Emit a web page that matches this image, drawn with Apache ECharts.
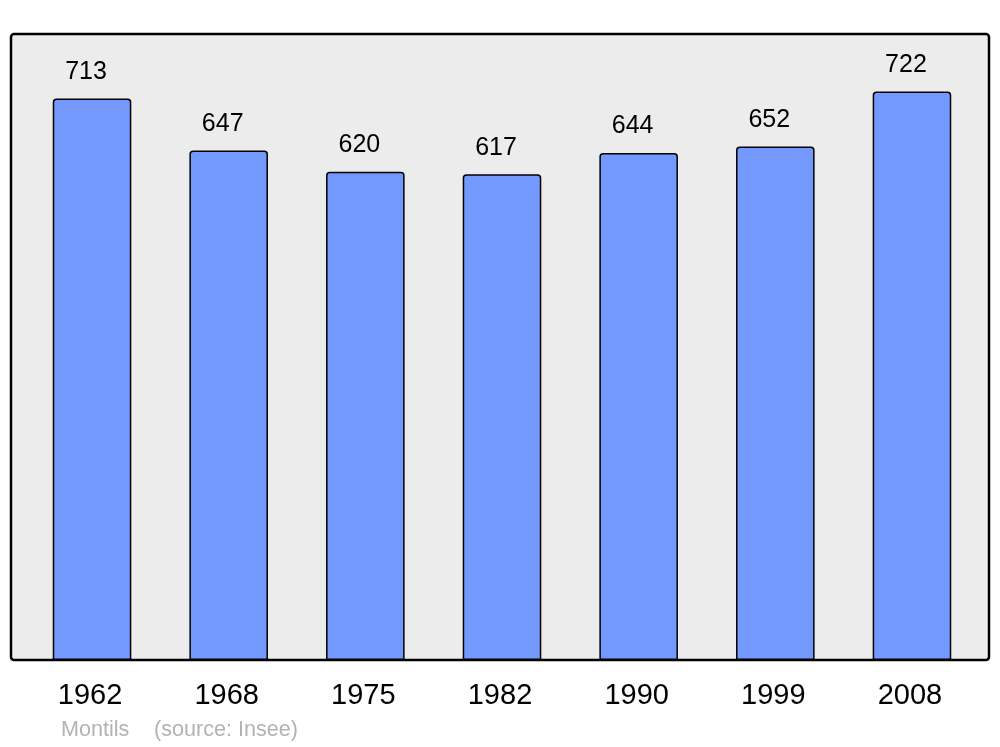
<!DOCTYPE html>
<html><head><meta charset="utf-8">
<script src="https://cdn.jsdelivr.net/npm/echarts@6/dist/echarts.min.js"></script>
<style>html,body{margin:0;padding:0;background:#fff}#c{width:1000px;height:747px}</style>
</head><body><div id="c"></div>
<script>
const years = ['1962','1968','1975','1982','1990','1999','2008'];
const population = [713, 647, 620, 617, 644, 652, 722];
const commune = 'Montils';
const source = '(source: Insee)';

const chart = echarts.init(document.getElementById('c'), null, {renderer:'canvas'});
const FONT = '"Liberation Sans", Arial, sans-serif';
chart.setOption({
  animation: false,
  backgroundColor: '#ffffff',
  graphic: [{
    type: 'rect', z: -10,
    shape: {x: 11, y: 34, width: 978, height: 626, r: 3},
    style: {fill: '#ececec', stroke: '#000', lineWidth: 2.5}
  }],
  title: [{
    text: commune, left: 61, top: 719, padding: 0,
    textStyle: {fontFamily: FONT, fontSize: 21.6, fontWeight: 'normal', color: '#b3b3b3'}
  }, {
    text: source, left: 154, top: 719, padding: 0,
    textStyle: {fontFamily: FONT, fontSize: 21.6, fontWeight: 'normal', color: '#b3b3b3'}
  }],
  grid: {left: 23.7, right: 19.7, top: 34, bottom: 87, containLabel: false},
  xAxis: {
    type: 'category', data: years,
    axisLine: {show: false}, axisTick: {show: false},
    axisLabel: {fontFamily: FONT, fontSize: 29, color: '#000', margin: 21,
      padding: [0, 4, 0, 0]}
  },
  yAxis: {
    type: 'value', min: 0, max: 795,
    show: false, splitLine: {show: false}
  },
  series: [{
    type: 'bar', data: population, barWidth: '57.5%',
    itemStyle: {color: '#7399ff', borderColor: '#000', borderWidth: 1.5, borderRadius: [3,3,0,0]},
    label: {show: true, position: 'top', distance: 14, offset: [-6, 0],
      fontFamily: FONT, fontSize: 25, color: '#000'}
  }]
});
</script></body></html>
